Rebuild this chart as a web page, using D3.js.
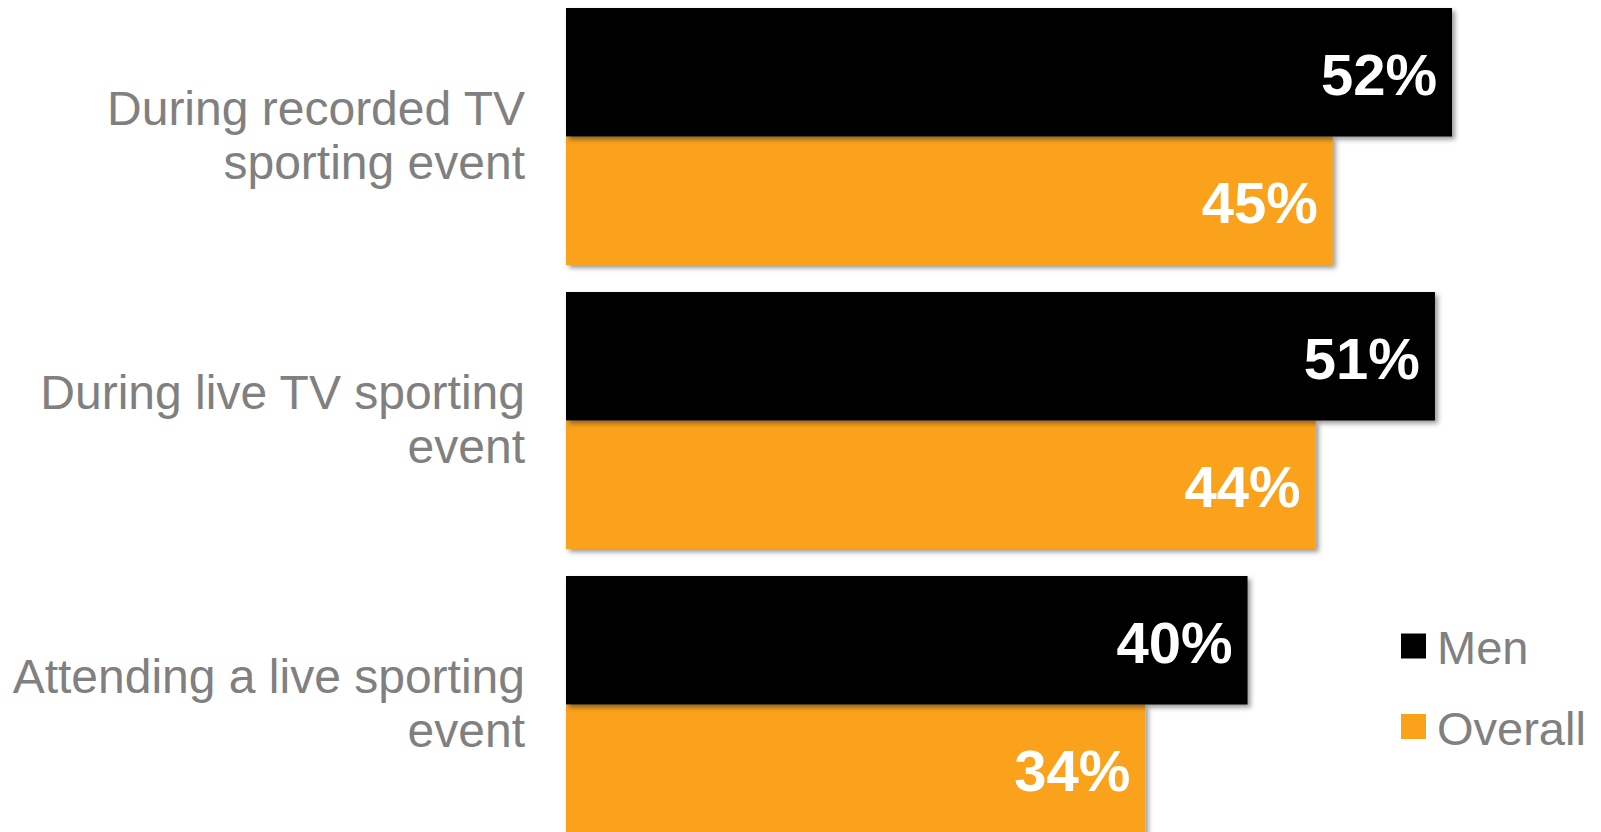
<!DOCTYPE html>
<html>
<head>
<meta charset="utf-8">
<script src="https://cdn.jsdelivr.net/npm/d3@7"></script>
<style>
  html, body { margin: 0; padding: 0; background: #ffffff; }
  svg { display: block; }
</style>
</head>
<body>
<svg id="chart" width="1601" height="832"></svg>
<script>
// Share of respondents by viewing context
const categories = [
  ["During recorded TV", "sporting event"],
  ["During live TV sporting", "event"],
  ["Attending a live sporting", "event"]
];
const seriesNames = ["Men", "Overall"];
const menValues = [52, 51, 40];
const overallValues = [45, 44, 34];
const seriesColors = ["#000000", "#FAA21A"];

const svg = d3.select("#chart");

const catKeys = categories.map(c => c.join(" "));
const rows = catKeys.map((k, i) => ({
  key: k,
  lines: categories[i],
  values: [
    { series: seriesNames[0], value: menValues[i] },
    { series: seriesNames[1], value: overallValues[i] }
  ]
}));

// Scales
const x = d3.scaleLinear().domain([0, 52]).range([566, 1452]);
const y0 = d3.scaleBand().domain(catKeys).range([8, 833]).paddingInner(27 / 284).paddingOuter(0);
const y1 = d3.scaleBand().domain(seriesNames).range([0, y0.bandwidth()]).padding(0);
const color = d3.scaleOrdinal().domain(seriesNames).range(seriesColors);

// Soft drop shadow under each bar
const defs = svg.append("defs");
const f = defs.append("filter").attr("id", "barShadow")
  .attr("x", "-5%").attr("y", "-20%").attr("width", "115%").attr("height", "150%");
f.append("feDropShadow")
  .attr("dx", 3).attr("dy", 3).attr("stdDeviation", 2.5)
  .attr("flood-color", "#000").attr("flood-opacity", 0.4);

const groups = svg.append("g").selectAll("g.group")
  .data(rows).join("g")
  .attr("class", "group")
  .attr("transform", d => `translate(0,${y0(d.key)})`);

// Overall bars drawn first so the men bar's shadow is not hidden by them
groups.each(function(d) {
  const g = d3.select(this);
  const ordered = [d.values[1], d.values[0]];
  g.selectAll("rect.bar").data(ordered).join("rect")
    .attr("class", "bar")
    .attr("x", x(0))
    .attr("y", v => y1(v.series))
    .attr("width", v => x(v.value) - x(0))
    .attr("height", y1.bandwidth())
    .attr("fill", v => color(v.series))
    .attr("filter", "url(#barShadow)");

  g.selectAll("text.val").data(d.values).join("text")
    .attr("class", "val")
    .attr("x", v => x(v.value) - 15)
    .attr("y", v => y1(v.series) + y1.bandwidth() / 2)
    .attr("dy", "0.39em")
    .attr("text-anchor", "end")
    .attr("fill", "#ffffff")
    .style("font-family", "'Liberation Sans', Arial, sans-serif")
    .style("font-weight", "bold")
    .style("font-size", "58px")
    .text(v => v.value + "%");
});

// Category labels, right aligned beside the bars
const lineGap = 54;
groups.append("text")
  .attr("text-anchor", "end")
  .attr("fill", "#808080")
  .style("font-family", "'Liberation Sans', Arial, sans-serif")
  .style("font-size", "48px")
  .each(function(d) {
    const t = d3.select(this);
    const n = d.lines.length;
    const mid = y0.bandwidth() / 2;
    d.lines.forEach((line, i) => {
      t.append("tspan")
        .attr("x", 525)
        .attr("y", mid + (i - (n - 1) / 2) * lineGap + 15.5)
        .text(line);
    });
  });

// Legend
const legend = svg.append("g").attr("transform", "translate(1401,646)");
const items = legend.selectAll("g").data(seriesNames).join("g")
  .attr("transform", (d, i) => `translate(0,${i * 80.5})`);
items.append("rect")
  .attr("x", 0).attr("y", -12.5)
  .attr("width", 25).attr("height", 25)
  .attr("fill", d => color(d));
items.append("text")
  .attr("x", 36).attr("y", 18)
  .attr("fill", "#808080")
  .style("font-family", "'Liberation Sans', Arial, sans-serif")
  .style("font-size", "47px")
  .text(d => d);
</script>
</body>
</html>
